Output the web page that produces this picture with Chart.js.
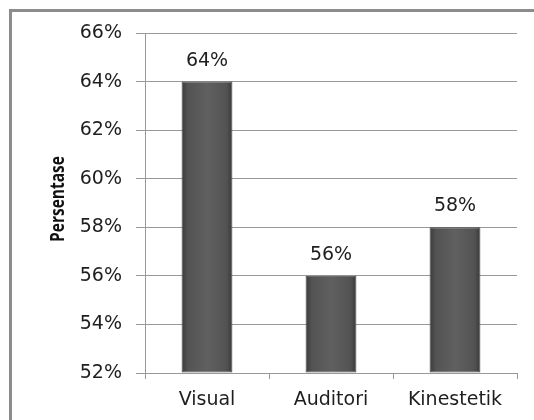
<!DOCTYPE html>
<html>
<head>
<meta charset="utf-8">
<script src="https://cdn.jsdelivr.net/npm/chart.js@4"></script>
<style>
  body { margin: 0; background: #fff; }
  .wrap { position: relative; width: 534px; height: 420px; }
  .frame { position: absolute; left: 9px; top: 9px; width: 540px; height: 430px;
           border-left: 3px solid #8c8c8c; border-top: 3px solid #8c8c8c; pointer-events: none; }
  canvas { position: absolute; left: 0; top: 0; }
</style>
</head>
<body>
<div class="wrap">
  <canvas id="chart" width="534" height="420"></canvas>
  <div class="frame"></div>
</div>
<script>
const categories = ["Visual", "Auditori", "Kinestetik"];
const values = [64, 56, 58];
const yTicks = [52, 54, 56, 58, 60, 62, 64, 66];
const yTitle = "Persentase";

const textColor = "#1e1e1e";
const gridColor = "#999999";
const barPct = 0.41;

const barFill = (ctx) => {
  const chart = ctx.chart;
  const xScale = chart.scales.x;
  if (!xScale || !chart.chartArea) return "#5c5c5c";
  const cx = xScale.getPixelForValue(ctx.dataIndex);
  const half = (xScale.width / categories.length) * barPct / 2;
  const g = chart.ctx.createLinearGradient(cx - half, 0, cx + half, 0);
  g.addColorStop(0, "#3a3a3a");
  g.addColorStop(0.12, "#535353");
  g.addColorStop(0.5, "#606060");
  g.addColorStop(0.88, "#535353");
  g.addColorStop(1, "#3a3a3a");
  return g;
};

// value labels above the bars
const valueLabels = {
  id: "valueLabels",
  afterDatasetsDraw(chart) {
    const { ctx } = chart;
    const meta = chart.getDatasetMeta(0);
    ctx.save();
    ctx.font = "19px 'DejaVu Sans'";
    ctx.fillStyle = textColor;
    ctx.textAlign = "center";
    ctx.textBaseline = "middle";
    meta.data.forEach((bar, i) => {
      ctx.fillText(values[i] + "%", bar.x, bar.y - 21);
    });
    ctx.restore();
  },
};

// rotated y axis title; the original glyphs are stretched sideways
const axisTitle = {
  id: "axisTitle",
  afterDraw(chart) {
    const { ctx, chartArea } = chart;
    ctx.save();
    ctx.translate(58, (chartArea.top + chartArea.bottom) / 2 - 4);
    ctx.scale(1.27, 1);
    ctx.rotate(-Math.PI / 2);
    ctx.font = "bold 15.5px 'Open Sans'";
    ctx.fillStyle = "#111";
    ctx.textAlign = "center";
    ctx.textBaseline = "middle";
    ctx.fillText(yTitle, 0, 0);
    ctx.restore();
  },
};

new Chart(document.getElementById("chart").getContext("2d"), {
  type: "bar",
  data: {
    labels: categories,
    datasets: [
      {
        data: values,
        backgroundColor: barFill,
        borderColor: "#444444",
        borderWidth: 1,
        borderSkipped: false,
        barPercentage: barPct,
        categoryPercentage: 1,
        base: 52,
      },
    ],
  },
  plugins: [valueLabels, axisTitle],
  options: {
    responsive: false,
    animation: false,
    layout: { padding: { left: 12, top: 33, right: 17, bottom: 0 } },
    plugins: { legend: { display: false }, tooltip: { enabled: false } },
    scales: {
      x: {
        afterFit(scale) { scale.height = 47; },
        grid: { display: true, drawOnChartArea: false, drawTicks: true, tickLength: 6, color: gridColor, offset: true },
        border: { color: gridColor },
        ticks: { color: textColor, font: { family: "DejaVu Sans", size: 19 }, padding: 10 },
      },
      y: {
        min: 52,
        max: 66,
        afterFit(scale) { scale.width = 133; },
        afterBuildTicks(scale) { scale.ticks = yTicks.map((v) => ({ value: v })); },
        grid: { color: gridColor, tickLength: 9 },
        border: { color: gridColor },
        ticks: {
          color: textColor,
          font: { family: "DejaVu Sans", size: 19 },
          padding: 14,
          callback: (v) => v + "%",
        },
      },
    },
  },
});
</script>
</body>
</html>
